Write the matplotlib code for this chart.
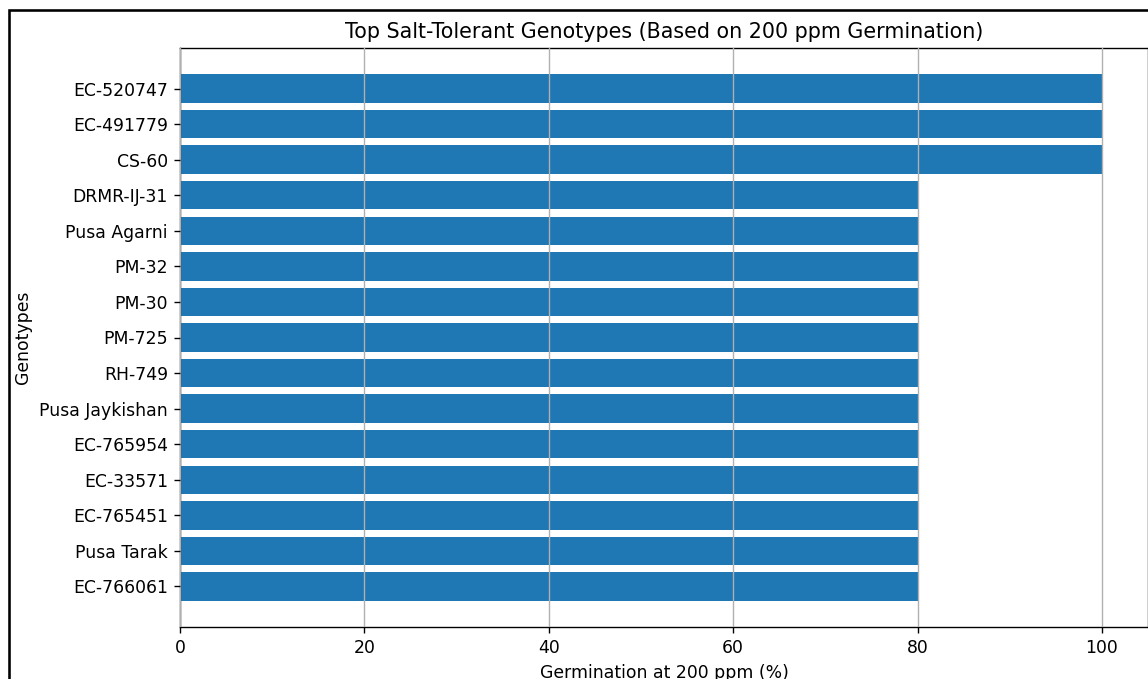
import matplotlib.pyplot as plt
from matplotlib.patches import Rectangle

# genotypes, top of chart first
genotypes = ['EC-520747', 'EC-491779', 'CS-60', 'DRMR-IJ-31', 'Pusa Agarni',
             'PM-32', 'PM-30', 'PM-725', 'RH-749', 'Pusa Jaykishan',
             'EC-765954', 'EC-33571', 'EC-765451', 'Pusa Tarak', 'EC-766061']
germination = [100, 100, 100, 80, 80, 80, 80, 80, 80, 80, 80, 80, 80, 80, 80]

dpi = 124
fig = plt.figure(figsize=(1148 / dpi, 679 / dpi), dpi=dpi)
ax = fig.add_axes([180 / 1148, 1 - 627 / 679, 968 / 1148, 579 / 679])

# plot reversed so first genotype sits at the top
ax.barh(genotypes[::-1], germination[::-1], color='#1f77b4')
ax.set_title('Top Salt-Tolerant Genotypes (Based on 200 ppm Germination)')
ax.set_xlabel('Germination at 200 ppm (%)')
ax.set_ylabel('Genotypes')
ax.grid(axis='x')
ax.set_axisbelow(False)

# screenshot frame
fig.patches.append(Rectangle((8.5 / 1148, -0.1), 1.2, 1 - 10.5 / 679 + 0.1,
                             transform=fig.transFigure, fill=False,
                             edgecolor='black', linewidth=1.5))

plt.savefig('out.png', dpi=dpi)
